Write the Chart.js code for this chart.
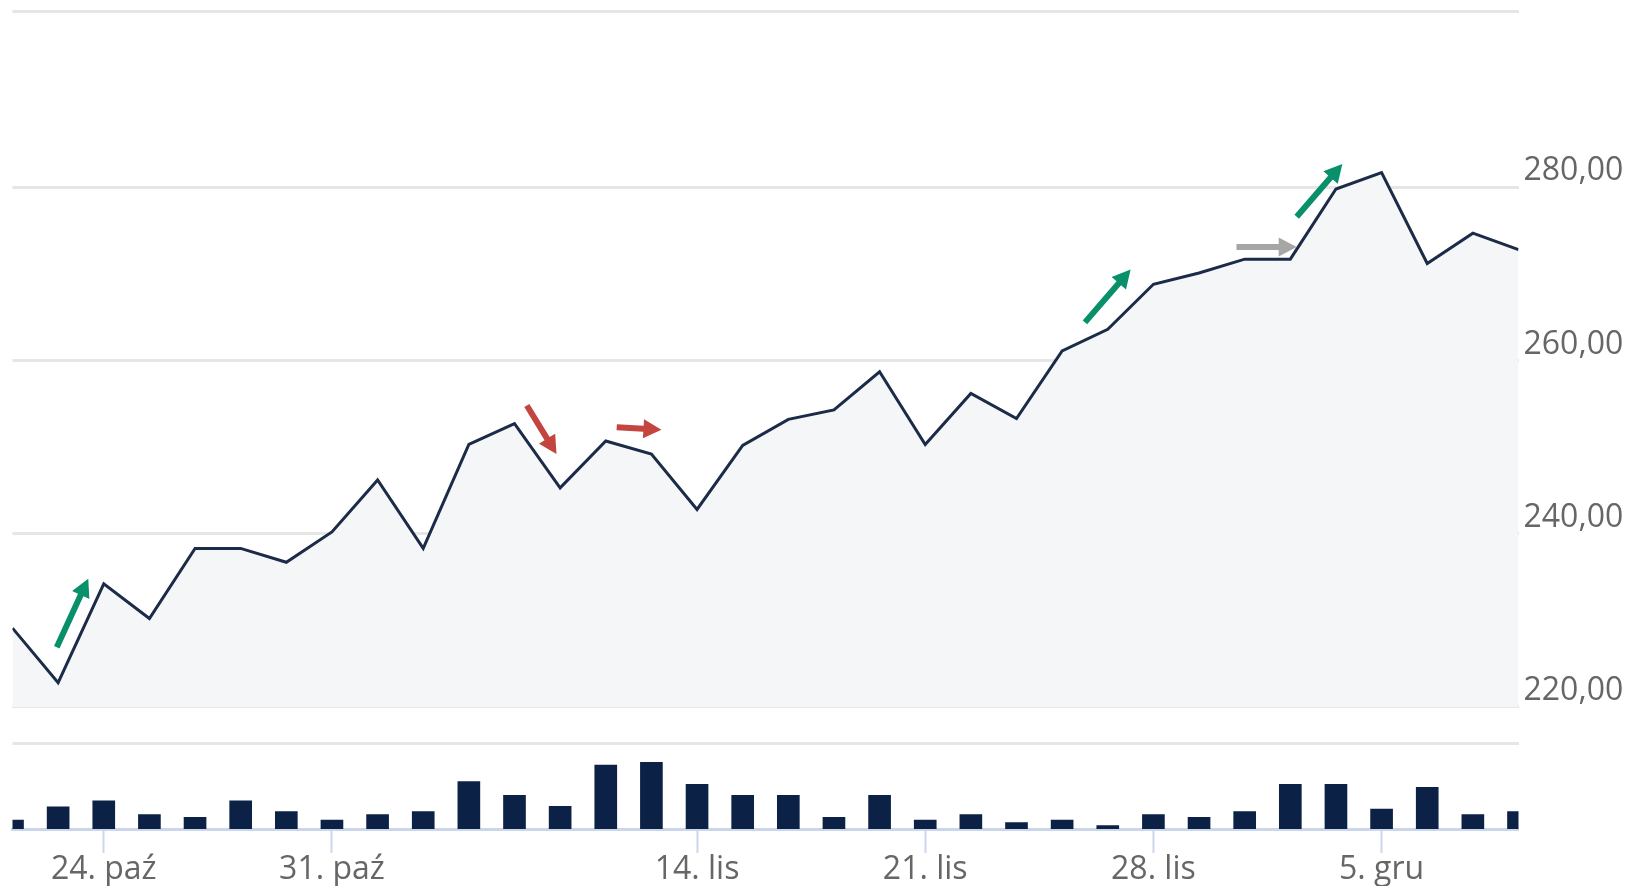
<!DOCTYPE html>
<html><head><meta charset="utf-8">
<script src="https://cdn.jsdelivr.net/npm/chart.js@4.4.1/dist/chart.umd.min.js"></script>
<style>html,body{margin:0;padding:0;background:#fff;overflow:hidden}#wrap{position:relative;width:1633px;height:886px}</style>
</head><body><div id="wrap"><canvas id="c" width="1633" height="886"></canvas></div>
<script>
// ---- data ----
const dates = ['20. paź','21. paź','24. paź','25. paź','26. paź','27. paź','28. paź','31. paź',
  '2. lis','3. lis','4. lis','7. lis','8. lis','9. lis','10. lis','14. lis','15. lis','16. lis','17. lis','18. lis',
  '21. lis','22. lis','23. lis','24. lis','25. lis','28. lis','29. lis','30. lis','1. gru','2. gru',
  '5. gru','6. gru','7. gru','8. gru'];
const closePrices = [229.1,222.8,234.2,230.2,238.3,238.3,236.7,240.2,246.2,238.3,250.3,252.7,245.3,250.7,249.2,
  242.8,250.2,253.2,254.3,258.7,250.3,256.2,253.3,261.1,263.6,268.8,270.1,271.7,271.7,279.8,281.7,271.2,274.7,272.8];
const volumes = [10.5,26,33,16.7,13.7,33,20.2,10.5,16.7,20.2,55.2,39.3,26.5,74.7,77.8,52.2,39.3,39.3,13.7,39.3,
  10.5,16.7,7.4,10.5,3.9,16.7,13.7,20.2,52.2,52.2,23.3,48.7,16.7,20.2];
const tickDates = ['24. paź','31. paź','14. lis','21. lis','28. lis','5. gru'];
const priceTicks = [220,240,260,280];
const volumeGrid = [100];
// trend arrows: start [index, price], end [index, price], kind
const arrowStart = [[0.97,226.9],[11.27,254.8],[13.24,252.3],[23.5,264.4],[26.82,273.1],[28.14,276.6]];
const arrowEnd   = [[1.66,234.8],[11.92,249.2],[14.22,252.0],[24.5,270.5],[28.14,273.1],[29.14,282.7]];
const arrowKind  = ['up','down','flat','up','neutral','up'];

const arrowColors = {up:'#07906a', down:'#c4443f', flat:'#c4443f', neutral:'#a6a6a6'};
const fmt = v => v.toFixed(2).replace('.', ',');

const arrowPlugin = {
  id:'arrows',
  afterDatasetsDraw(chart){
    const ctx = chart.ctx, xs = chart.scales.x, ys = chart.scales.y;
    arrowStart.forEach((s,i)=>{
      const e = arrowEnd[i];
      const x1 = xs.getPixelForValue(s[0]), y1 = ys.getPixelForValue(s[1]);
      const x2 = xs.getPixelForValue(e[0]), y2 = ys.getPixelForValue(e[1]);
      const len = Math.hypot(x2-x1,y2-y1), dx=(x2-x1)/len, dy=(y2-y1)/len, nx=-dy, ny=dx;
      const L=18, W=9.5, S=3;
      const bx = x2-dx*L, by = y2-dy*L;
      ctx.save();
      ctx.fillStyle = arrowColors[arrowKind[i]];
      ctx.beginPath();
      ctx.moveTo(x1+nx*S, y1+ny*S);
      ctx.lineTo(bx+nx*S, by+ny*S);
      ctx.lineTo(bx+nx*W, by+ny*W);
      ctx.lineTo(x2, y2);
      ctx.lineTo(bx-nx*W, by-ny*W);
      ctx.lineTo(bx-nx*S, by-ny*S);
      ctx.lineTo(x1-nx*S, y1-ny*S);
      ctx.closePath();
      ctx.fill();
      ctx.restore();
    });
  }
};

function noPad(s){ s.paddingTop = 0; s.paddingBottom = 0; s.paddingLeft = 0; s.paddingRight = 0; }

function draw(){
  new Chart(document.getElementById('c'), {
    type:'line',
    data:{
      labels: dates,
      datasets:[
        {type:'line', data: closePrices, yAxisID:'y', borderColor:'#1b2b48', borderWidth:3,
         pointRadius:0, tension:0, fill:{value:220}, backgroundColor:'#f5f6f8', clip:0, order:1},
        {type:'bar', data: volumes, yAxisID:'yVol', backgroundColor:'#0b2145', borderWidth:0,
         barThickness:22, clip:0, order:2}
      ]
    },
    options:{
      responsive:false, animation:false, devicePixelRatio:1,
      layout:{padding:{left:12.5, top:11.5, right:0, bottom:0}},
      plugins:{legend:{display:false}, tooltip:{enabled:false}},
      scales:{
        x:{
          type:'category', offset:false,
          grid:{drawOnChartArea:false, drawTicks:true, tickLength:24, tickColor:'#ccd6eb', tickWidth:2, offset:false},
          border:{display:true, color:'#ccd6eb', width:3},
          ticks:{autoSkip:false, maxRotation:0, color:'#666666', padding:1,
                 font:{family:'Open Sans', size:32, lineHeight:1},
                 callback(v){ return this.getLabelForValue(v); }},
          afterBuildTicks(s){ s.ticks = s.ticks.filter(t => tickDates.includes(dates[t.value])); },
          afterFit(s){ s.height = 57; noPad(s); }
        },
        yVol:{
          position:'right', min:0, max:953.9,
          ticks:{display:false},
          grid:{color:'#e6e6e6', lineWidth:3, drawTicks:false},
          border:{display:false},
          afterBuildTicks(s){ s.ticks = volumeGrid.map(v=>({value:v})); },
          afterFit(s){ s.width = 0; noPad(s); }
        },
        y:{
          position:'right', min:205.9, max:300.3,
          ticks:{autoSkip:false, color:'#666666', padding:5, labelOffset:-16,
                 font:{family:'Open Sans', size:32},
                 callback(v){ return priceTicks.includes(v) ? fmt(v) : ''; }},
          grid:{color:'#e6e6e6', lineWidth:3, drawTicks:false},
          border:{display:false},
          afterBuildTicks(s){ s.ticks = priceTicks.map(v=>({value:v})).concat([{value:300.3}]); },
          afterFit(s){ s.width = 114.5; noPad(s); }
        }
      }
    },
    plugins:[arrowPlugin]
  });
}
(document.fonts && document.fonts.load ? document.fonts.load('32px "Open Sans"') : Promise.resolve()).then(draw, draw);
</script>
</body></html>
